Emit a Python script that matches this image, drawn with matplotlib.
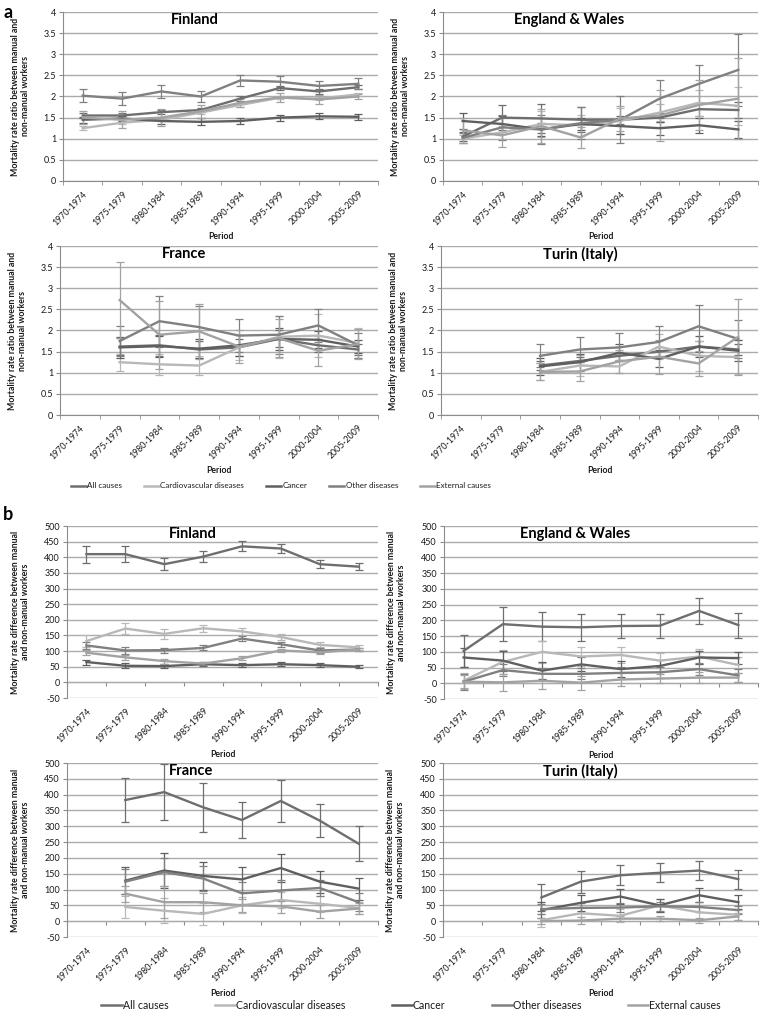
import numpy as np
import matplotlib
matplotlib.use('Agg')
import matplotlib.pyplot as plt
from matplotlib.lines import Line2D
from matplotlib.ticker import FuncFormatter

plt.rcParams['font.family'] = ['Lato', 'DejaVu Sans']

nan = np.nan
periods = ['1970-1974', '1975-1979', '1980-1984', '1985-1989',
           '1990-1994', '1995-1999', '2000-2004', '2005-2009']
causes = ['All causes', 'Cardiovascular diseases', 'Cancer',
          'Other diseases', 'External causes']
colors = ['#6e6e6e', '#b8b8b8', '#5f5f5f', '#808080', '#a2a2a2']

# ---- Panel a: mortality rate ratios (rows follow `causes`) ----
finland_ratio = [
    [1.55, 1.55, 1.63, 1.68, 1.95, 2.20, 2.12, 2.22],
    [1.25, 1.38, 1.45, 1.62, 1.80, 1.97, 1.95, 2.05],
    [1.45, 1.48, 1.42, 1.40, 1.42, 1.50, 1.53, 1.52],
    [2.02, 1.95, 2.12, 2.00, 2.38, 2.35, 2.25, 2.30],
    [1.50, 1.45, 1.50, 1.65, 1.85, 1.98, 1.93, 2.00],
]
finland_ratio_err = [
    [0.05, 0.05, 0.05, 0.05, 0.05, 0.05, 0.05, 0.05],
    [0.04, 0.04, 0.04, 0.04, 0.04, 0.04, 0.04, 0.04],
    [0.07, 0.07, 0.07, 0.08, 0.07, 0.07, 0.07, 0.07],
    [0.15, 0.15, 0.15, 0.12, 0.12, 0.13, 0.12, 0.13],
    [0.15, 0.20, 0.20, 0.15, 0.10, 0.10, 0.10, 0.06],
]
england_ratio = [
    [1.05, 1.50, 1.48, 1.45, 1.45, 1.50, 1.70, 1.68],
    [1.00, 1.15, 1.35, 1.32, 1.42, 1.62, 1.85, 1.78],
    [1.42, 1.35, 1.22, 1.35, 1.30, 1.25, 1.32, 1.22],
    [1.02, 1.27, 1.22, 1.37, 1.45, 1.95, 2.30, 2.63],
    [1.20, 1.08, 1.30, 1.03, 1.48, 1.55, 1.80, 1.95],
]
england_ratio_err = [
    [0.10, 0.30, 0.35, 0.30, 0.10, 0.10, 0.15, 0.20],
    [0.10, 0.15, 0.30, 0.25, 0.30, 0.20, 0.30, 0.45],
    [0.20, 0.20, 0.15, 0.15, 0.18, 0.15, 0.18, 0.20],
    [0.12, 0.30, 0.35, 0.38, 0.55, 0.45, 0.45, 0.85],
    [0.30, 0.27, 0.40, 0.25, 0.30, 0.60, 0.60, 0.95],
]
france_ratio = [
    [nan, 1.62, 1.65, 1.55, 1.60, 1.80, 1.65, 1.55],
    [nan, 1.25, 1.20, 1.17, 1.60, 1.85, 1.88, 1.70],
    [nan, 1.60, 1.63, 1.57, 1.65, 1.80, 1.78, 1.62],
    [nan, 1.75, 2.22, 2.08, 1.88, 1.90, 2.12, 1.65],
    [nan, 2.72, 1.90, 1.98, 1.62, 1.82, 1.52, 1.68],
]
france_ratio_err = [
    [nan, 0.20, 0.25, 0.20, 0.20, 0.20, 0.15, 0.12],
    [nan, 0.20, 0.25, 0.22, 0.30, 0.50, 0.50, 0.35],
    [nan, 0.25, 0.25, 0.22, 0.25, 0.25, 0.20, 0.15],
    [nan, 0.35, 0.60, 0.50, 0.40, 0.45, 0.40, 0.30],
    [nan, 0.90, 0.80, 0.65, 0.40, 0.45, 0.35, 0.35],
]
turin_ratio = [
    [nan, nan, 1.17, 1.28, 1.40, 1.50, 1.62, 1.55],
    [nan, nan, 1.02, 1.17, 1.15, 1.62, 1.40, 1.37],
    [nan, nan, 1.15, 1.25, 1.47, 1.33, 1.62, 1.52],
    [nan, nan, 1.40, 1.55, 1.60, 1.73, 2.10, 1.80],
    [nan, nan, 1.02, 1.03, 1.27, 1.38, 1.22, 1.85],
]
turin_ratio_err = [
    [nan, nan, 0.10, 0.10, 0.10, 0.10, 0.12, 0.12],
    [nan, nan, 0.20, 0.25, 0.15, 0.30, 0.35, 0.40],
    [nan, nan, 0.20, 0.20, 0.20, 0.20, 0.25, 0.25],
    [nan, nan, 0.27, 0.30, 0.33, 0.37, 0.50, 0.45],
    [nan, nan, 0.20, 0.22, 0.27, 0.40, 0.30, 0.90],
]

# ---- Panel b: mortality rate differences ----
finland_diff = [
    [410, 410, 378, 402, 435, 428, 378, 370],
    [132, 172, 155, 173, 163, 145, 120, 112],
    [65, 53, 52, 58, 55, 58, 55, 50],
    [118, 102, 103, 110, 140, 122, 102, 105],
    [95, 80, 68, 60, 77, 102, 96, 105],
]
finland_diff_err = [
    [27, 25, 20, 18, 16, 15, 13, 12],
    [20, 18, 15, 12, 10, 10, 8, 8],
    [8, 8, 7, 6, 6, 6, 6, 5],
    [10, 10, 8, 8, 8, 8, 8, 6],
    [8, 8, 8, 6, 6, 6, 6, 5],
]
england_diff = [
    [103, 188, 180, 178, 182, 183, 230, 185],
    [8, 68, 100, 85, 90, 72, 85, 58],
    [82, 72, 40, 60, 45, 55, 82, 80],
    [5, 42, 30, 30, 33, 35, 45, 25],
    [5, 3, 8, 2, 12, 15, 18, 18],
]
england_diff_err = [
    [52, 53, 47, 43, 38, 38, 40, 40],
    [25, 38, 35, 30, 25, 25, 25, 25],
    [30, 32, 28, 22, 25, 20, 22, 20],
    [25, 20, 20, 18, 18, 18, 20, 20],
    [20, 28, 25, 22, 20, 15, 18, 15],
]
france_diff = [
    [nan, 383, 408, 360, 320, 380, 318, 245],
    [nan, 45, 33, 23, 50, 67, 55, 42],
    [nan, 128, 160, 143, 132, 168, 125, 103],
    [nan, 125, 155, 135, 88, 97, 105, 60],
    [nan, 87, 60, 60, 50, 47, 30, 40],
]
france_diff_err = [
    [nan, 70, 88, 78, 58, 65, 52, 55],
    [nan, 35, 40, 35, 25, 25, 25, 20],
    [nan, 42, 55, 45, 40, 45, 35, 35],
    [nan, 40, 45, 40, 35, 32, 25, 28],
    [nan, 25, 50, 30, 20, 20, 20, 18],
]
turin_diff = [
    [nan, nan, 75, 125, 145, 153, 160, 133],
    [nan, nan, 3, 25, 17, 50, 28, 20],
    [nan, nan, 35, 58, 78, 50, 82, 60],
    [nan, nan, 38, 42, 43, 47, 45, 35],
    [nan, nan, 0, 2, 8, 8, 3, 15],
]
turin_diff_err = [
    [nan, nan, 42, 35, 32, 30, 30, 30],
    [nan, nan, 20, 20, 20, 20, 20, 15],
    [nan, nan, 25, 25, 25, 20, 22, 22],
    [nan, nan, 15, 15, 15, 15, 15, 12],
    [nan, nan, 10, 10, 8, 8, 8, 10],
]

W, H = 760, 1013
fig = plt.figure(figsize=(W / 100, H / 100), dpi=100)

GRID = '#ababab'
AXC = '#8c8c8c'
TXT = '#1a1a1a'


def add_ax(left, top, right, bottom):
    return fig.add_axes([left / W, 1 - bottom / H, (right - left) / W, (bottom - top) / H])


def draw(box, vals, errs, title, tx, ty, kind):
    ax = add_ax(*box)
    x = np.arange(len(periods))
    if kind == 'ratio':
        ymin, ymax, step = 0, 4, 0.5
        ylabel = 'Mortality rate ratio between manual and\nnon-manual workers'
        labx = -0.105
    else:
        ymin, ymax, step = -50, 500, 50
        ylabel = 'Mortality rate difference between manual\nand non-manual workers'
        labx = -0.12
    ax.set_xlim(-0.5, len(periods) - 0.5)
    ax.set_ylim(ymin, ymax)
    ax.set_yticks(np.arange(ymin, ymax + step / 2, step))
    ax.yaxis.set_major_formatter(FuncFormatter(lambda v, p: f'{v:g}'))
    ax.yaxis.grid(True, color=GRID, lw=1.0)
    ax.set_axisbelow(True)
    for v, e, c in zip(vals, errs, colors):
        ax.errorbar(x, v, yerr=e, color=c, lw=1.7, elinewidth=0.9,
                    capsize=2.6, capthick=0.9, zorder=3)
    for s in ['top', 'right']:
        ax.spines[s].set_visible(False)
    ax.spines['left'].set_color(AXC)
    ax.tick_params(axis='y', length=3, color=AXC, labelsize=6.5, labelcolor=TXT, pad=2)
    ax.set_xticks(x)
    ax.set_xticklabels(periods, rotation=45, ha='right', rotation_mode='anchor',
                       fontsize=6.3, color=TXT)
    ax.tick_params(axis='x', length=0, pad=6)
    bounds = np.arange(-0.5, len(periods), 1.0)
    if kind == 'ratio':
        ax.spines['bottom'].set_color(AXC)
        ax.set_xticks(bounds, minor=True)
        ax.tick_params(axis='x', which='minor', length=3, color=AXC)
    else:
        ax.spines['bottom'].set_visible(False)
        frac = (0 - ymin) / (ymax - ymin)
        sec = ax.secondary_xaxis(frac)
        sec.set_xticks(bounds)
        sec.set_xticklabels([])
        sec.tick_params(length=3, color=AXC)
        for s in sec.spines.values():
            s.set_color(AXC)
    ax.set_ylabel(ylabel, fontsize=6.3, fontweight='bold', color=TXT, linespacing=1.15)
    ax.yaxis.set_label_coords(labx, 0.5)
    ax.set_xlabel('Period', fontsize=6.3, fontweight='bold', color=TXT)
    ax.xaxis.set_label_coords(0.5, -0.30)
    ax.text(tx, ty, title, transform=ax.transAxes, ha='center', va='center',
            fontsize=10.5, fontweight='bold', color='black')
    return ax


draw((63, 12, 378, 181), finland_ratio, finland_ratio_err, 'Finland', 0.42, 0.955, 'ratio')
draw((443, 12, 758, 181), england_ratio, england_ratio_err, 'England & Wales', 0.40, 0.955, 'ratio')
draw((60, 246, 378, 415), france_ratio, france_ratio_err, 'France', 0.39, 0.955, 'ratio')
draw((441, 246, 758, 415), turin_ratio, turin_ratio_err, 'Turin (Italy)', 0.44, 0.95, 'ratio')

draw((67, 526, 378, 698), finland_diff, finland_diff_err, 'Finland', 0.405, 0.955, 'diff')
draw((444, 526, 758, 699), england_diff, england_diff_err, 'England & Wales', 0.417, 0.955, 'diff')
draw((67, 763, 378, 937), france_diff, france_diff_err, 'France', 0.40, 0.955, 'diff')
draw((443, 763, 758, 937), turin_diff, turin_diff_err, 'Turin (Italy)', 0.435, 0.95, 'diff')

handles = [Line2D([], [], color=c, lw=1.8) for c in colors]
fig.legend(handles, causes, loc='center', bbox_to_anchor=(281 / W, 1 - 486 / H),
           ncol=5, frameon=False, fontsize=5.8, handlelength=1.9,
           handletextpad=0.15, columnspacing=2.7, labelcolor=TXT)
fig.legend(handles, causes, loc='center', bbox_to_anchor=(411 / W, 1 - 1005 / H),
           ncol=5, frameon=False, fontsize=7.6, handlelength=1.9,
           handletextpad=0.1, columnspacing=4.4, labelcolor=TXT)

fig.text(3 / W, 1 - 12 / H, 'a', fontsize=13, fontweight='bold', ha='left', va='center')
fig.text(3 / W, 1 - 515 / H, 'b', fontsize=13, fontweight='bold', ha='left', va='center')

fig.savefig('out.png', dpi=100)
